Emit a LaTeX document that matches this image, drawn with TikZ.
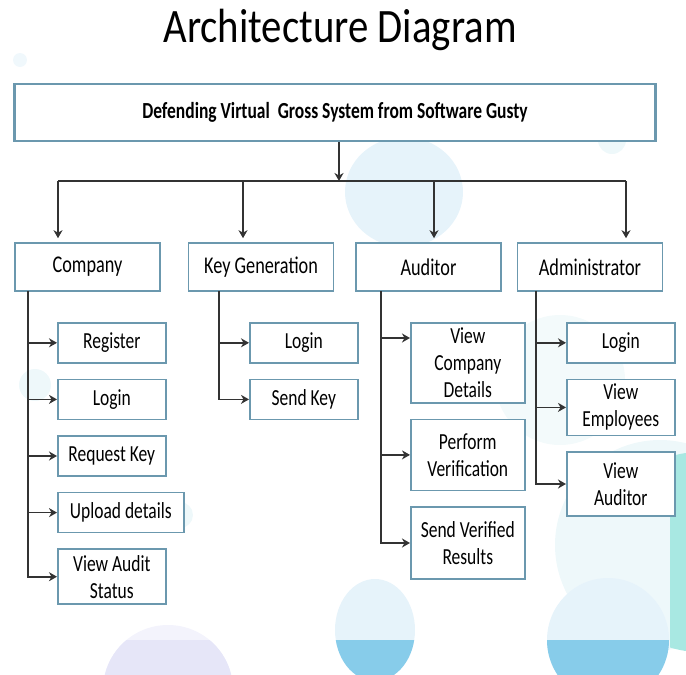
\documentclass[tikz,border=0pt]{standalone}
\usepackage{fontspec}
\setmainfont{Carlito}
\newfontfamily\narrowfont{Carlito}[FakeStretch=0.76]
\newfontfamily\titlefont{Carlito}[FakeStretch=0.85]
\usetikzlibrary{shapes,arrows,arrows.meta,positioning,calc}
\definecolor{boxline}{HTML}{6B98AE}
\definecolor{wirecol}{HTML}{333333}
\definecolor{paleblue}{HTML}{E6F3FA}
\definecolor{skyblue}{HTML}{87CCEA}
\definecolor{lavender}{HTML}{E6E6F8}
\definecolor{palelav}{HTML}{F3F3FC}
\definecolor{aqua}{HTML}{A8E8E2}
\definecolor{faint}{HTML}{EEF8FA}

\begin{document}
\begin{tikzpicture}[x=1pt,y=-1pt,->,>={Stealth[length=8pt,width=9pt,inset=2.5pt]},node distance=15pt,
  main node/.style={draw=boxline, line width=1.6pt, fill=white, minimum width=145pt, minimum height=48pt, font=\narrowfont\fontsize{24}{27}\selectfont},
  sub node/.style={draw=boxline, line width=1.6pt, fill=white, minimum width=108pt, minimum height=40pt, inner sep=1pt, align=center, font=\narrowfont\fontsize{23}{27}\selectfont},
  wire/.style={draw=wirecol, line width=1.6pt}]
			\useasboundingbox (0,0) rectangle (686,675);
			
			% background circles
			\begin{scope}[-]
			\clip (0,0) rectangle (686,675);
			\fill[faint] (660,545) circle (105);
			\fill[faint!70] (560,380) circle (65);
			\begin{scope}
			\clip (670,0) rectangle (686,675);
			\fill[aqua] (700,552) circle (100);
			\end{scope}
			\fill[paleblue] (404,192) ellipse (59 and 55);
			\fill[paleblue] (375,630) ellipse (40 and 51);
			\fill[paleblue] (608,640) ellipse (61 and 62);
			\fill[palelav] (168,690) circle (65);
			\begin{scope}
			\clip (0,640) rectangle (686,675);
			\fill[skyblue] (375,630) ellipse (40 and 51);
			\fill[skyblue] (608,640) ellipse (61 and 62);
			\fill[lavender] (168,690) circle (65);
			\end{scope}
			\fill[paleblue!60] (20,60) circle (7);
			\fill[faint] (35,385) circle (16);
			\fill[faint] (180,515) circle (13);
			\fill[faint] (612,140) circle (14);
			\end{scope}
			
			\node[font=\titlefont\fontsize{48}{52}\selectfont, anchor=base] (title) at (340,42) {Architecture Diagram};
			\node[main node, line width=2.5pt, minimum width=641pt, minimum height=57pt, font=\narrowfont\bfseries\fontsize{23}{26}\selectfont] (top) at (335,112.5) {Defending Virtual\ \ Gross System from Software Gusty};
			
			\node[main node] (company) at (87.5,267) {Company};
			\node[main node] (keygen) at (261,267) {Key Generation};
			\node[main node] (auditor) at (428.5,267) {Auditor};
			\node[main node] (admin) at (590,267) {Administrator};
			
			\node[sub node, anchor=north west] (register) at (57,322) {Register};
			\node[sub node] (clogin) [below=of register.south west, anchor=north west] {Login};
			\node[sub node] (reqkey) [below=of clogin.south west, anchor=north west] {Request Key};
			\node[sub node, minimum width=126pt] (upload) [below=of reqkey.south west, anchor=north west] {Upload details};
			\node[sub node, minimum height=55pt] (status) [below=of upload.south west, anchor=north west] {View Audit\\Status};
			
			\node[sub node, anchor=north west] (klogin) at (249,322) {Login};
			\node[sub node] (sendkey) [below=of klogin.south west, anchor=north west] {Send Key};
			
			\node[sub node, minimum width=114pt, minimum height=80pt, anchor=north west] (viewcomp) at (410,322) {View\\Company\\Details};
			\node[sub node, minimum width=114pt, minimum height=71pt] (perform) [below=of viewcomp.south west, anchor=north west] {Perform\\Verification};
			\node[sub node, minimum width=114pt, minimum height=72pt] (sendres) [below=of perform.south west, anchor=north west] {Send Verified\\Results};
			
			\node[sub node, anchor=north west] (alogin) at (566,322) {Login};
			\node[sub node, minimum height=56pt] (viewemp) [below=of alogin.south west, anchor=north west] {View\\Employees};
			\node[sub node, minimum height=64pt] (viewaud) [below=of viewemp.south west, anchor=north west] {View\\Auditor};
			
			% bus
			\coordinate (b1) at (58,181);
			\coordinate (b2) at (243,181);
			\coordinate (b3) at (434,181);
			\coordinate (b4) at (626,181);
			\draw[wire] ([xshift=4pt]top.south) -- ([xshift=4pt]top.south |- b1);
			\draw[wire,-] (b1) -- (b4);
			\draw[wire,shorten >=4pt] (b1) -- (b1 |- company.north);
			\draw[wire,shorten >=4pt] (b2) -- (b2 |- keygen.north);
			\draw[wire,shorten >=4pt] (b3) -- (b3 |- auditor.north);
			\draw[wire,shorten >=4pt] (b4) -- (b4 |- admin.north);
			
			% trunks
			\coordinate (ctrunk) at (28,291);
			\coordinate (ktrunk) at (219,291);
			\coordinate (atrunk) at (381,291);
			\coordinate (dtrunk) at (536,291);
			\draw[wire] (ctrunk) |- (register.west);
			\draw[wire] (ctrunk) |- (clogin.west);
			\draw[wire] (ctrunk) |- (reqkey.west);
			\draw[wire] (ctrunk) |- (upload.west);
			\draw[wire] (ctrunk) |- (status.west);
			\draw[wire] (ktrunk) |- (klogin.west);
			\draw[wire] (ktrunk) |- (sendkey.west);
			\draw[wire] (atrunk) |- ($(viewcomp.north west)+(0,16)$);
			\draw[wire] (atrunk) |- (perform.west);
			\draw[wire] (atrunk) |- (sendres.west);
			\draw[wire] (dtrunk) |- (alogin.west);
			\draw[wire] (dtrunk) |- (viewemp.west);
			\draw[wire] (dtrunk) |- (viewaud.west);
			
			\end{tikzpicture}
\end{document}
